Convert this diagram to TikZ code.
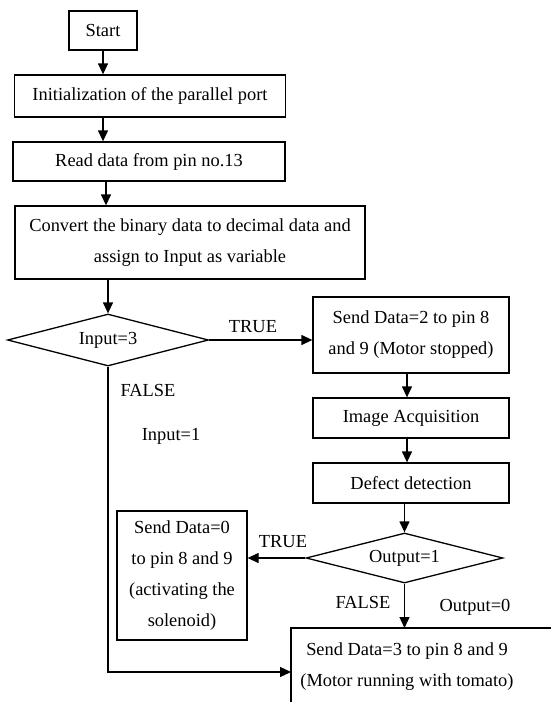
\documentclass[tikz,border=0pt]{standalone}
\usepackage{fontspec}
\setmainfont{Liberation Serif}
\usetikzlibrary{shapes.geometric,arrows.meta}
\begin{document}
\begin{tikzpicture}[x=1pt,y=-1pt,
  font=\fontsize{18.4}{31}\selectfont,
  box/.style={draw,line width=1.3pt,rectangle,inner sep=0pt,align=center},
  dec/.style={draw,line width=1.3pt,diamond,inner sep=0pt,aspect=3.9},
  lbl/.style={inner sep=0pt},
  flow/.style={line width=1.3pt,-{Triangle[length=11pt,width=10pt]}},
  plain/.style={line width=1.3pt}]
\clip (0,0) rectangle (551,702);
\fill[white] (0,0) rectangle (551,702);
% nodes
\node[box,minimum width=68pt,minimum height=39pt] (start) at (103,30.5) {Start};
\node[box,minimum width=271pt,minimum height=42pt] (init) at (150,96) {Initialization of the parallel port};
\node[box,minimum width=272pt,minimum height=39pt] (read) at (149,161.5) {Read data from pin no.13};
\node[box,minimum width=350pt,minimum height=73pt] (conv) at (190,242.5) {Convert the binary data to decimal data and\\assign to Input as variable};
\node[dec,minimum width=201pt,minimum height=52pt] (d1) at (108,340) {Input=3};
\node[box,minimum width=196pt,minimum height=76pt] (s2) at (411,335) {Send Data=2 to pin 8\\and 9 (Motor stopped)};
\node[box,minimum width=196pt,minimum height=40pt] (img) at (411,418) {Image Acquisition};
\node[box,minimum width=196pt,minimum height=40pt] (def) at (411,483) {Defect detection};
\node[dec,minimum width=197pt,minimum height=50pt] (d2) at (404.5,558) {Output=1};
\node[box,minimum width=130pt,minimum height=129pt] (s0) at (182,575.5) {Send Data=0\\to pin 8 and 9\\(activating the\\solenoid)};
\node[lbl,align=center] (s3) at (407,667) {Send Data=3 to pin 8 and 9\\(Motor running with tomato)};
\coordinate (s3tl) at (291,628);
\coordinate (s3br) at (600,730);
\draw[plain] (s3tl |- s3br) -- (s3tl) -- (s3tl -| s3br);
\coordinate (fb) at (108,672);
% labels
\node[lbl] (t1) at (253,327) {TRUE};
\node[lbl] (f1) at (148,390) {FALSE};
\node[lbl] (i1) at (171,436) {Input=1};
\node[lbl] (t2) at (283,542) {TRUE};
\node[lbl] (f2) at (363,602) {FALSE};
\node[lbl] (o0) at (475,607) {Output=0};
% connectors
\draw[flow] (start.south) -- (start.south |- init.north);
\draw[flow] (init.south -| start.south) -- (read.north -| start.south);
\draw[flow] ([xshift=-43pt]read.south) -- ([xshift=-43pt]read.south |- conv.north);
\draw[flow] (d1.north |- conv.south) -- (d1.north);
\draw[flow] (d1.east) -- (d1.east -| s2.west);
\draw[flow] ([xshift=-4pt]s2.south) -- ([xshift=-4pt]img.north);
\draw[flow] ([xshift=-4pt]img.south) -- ([xshift=-4pt]def.north);
\draw[flow] (d2.north |- def.south) -- (d2.north);
\draw[flow] (d2.west) -- (d2.west -| s0.east);
\draw[flow] (d2.south) -- (d2.south |- s3tl);
\draw[flow] (d1.south) -- (fb) -- (fb -| s3tl);
\end{tikzpicture}
\end{document}
